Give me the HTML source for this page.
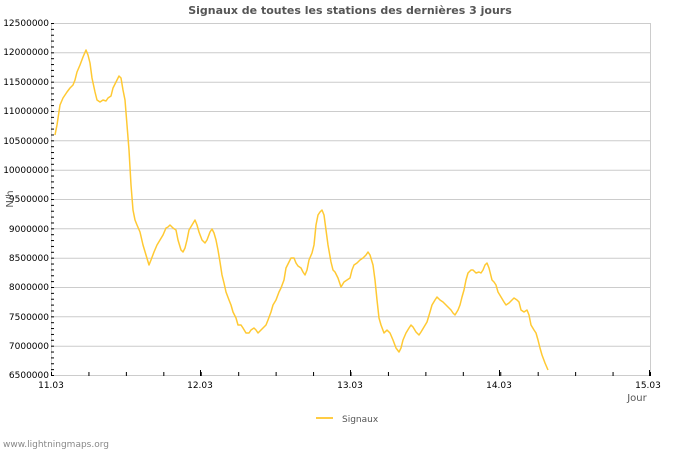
<!DOCTYPE html>
<html><head><meta charset="utf-8"><style>body{margin:0;background:#fff}svg{display:block}text{font-family:"DejaVu Sans","Liberation Sans",sans-serif}</style></head><body>
<svg width="700" height="450" viewBox="0 0 700 450" xmlns="http://www.w3.org/2000/svg">
<defs>
<pattern id="yt" patternUnits="userSpaceOnUse" x="0" y="23" width="10" height="5.8667"><rect x="0" y="0" width="10" height="1" fill="#000"/></pattern>
<pattern id="xt" patternUnits="userSpaceOnUse" x="51" y="0" width="37.4375" height="10"><rect x="0" y="0" width="1" height="10" fill="#000"/></pattern>
</defs>
<rect width="700" height="450" fill="#fff"/>
<text x="350" y="14" font-size="11" font-weight="bold" fill="#555" text-anchor="middle">Signaux de toutes les stations des dernières 3 jours</text>
<g stroke="#ccc" stroke-width="1">
<line x1="51" y1="23.5" x2="650" y2="23.5"/><line x1="51" y1="52.8" x2="650" y2="52.8"/><line x1="51" y1="82.2" x2="650" y2="82.2"/><line x1="51" y1="111.5" x2="650" y2="111.5"/><line x1="51" y1="140.8" x2="650" y2="140.8"/><line x1="51" y1="170.2" x2="650" y2="170.2"/><line x1="51" y1="199.5" x2="650" y2="199.5"/><line x1="51" y1="228.8" x2="650" y2="228.8"/><line x1="51" y1="258.2" x2="650" y2="258.2"/><line x1="51" y1="287.5" x2="650" y2="287.5"/><line x1="51" y1="316.8" x2="650" y2="316.8"/><line x1="51" y1="346.2" x2="650" y2="346.2"/>
<line x1="650.5" y1="23" x2="650.5" y2="375"/><line x1="51.5" y1="23" x2="51.5" y2="375"/><line x1="51" y1="375.5" x2="650" y2="375.5"/>
</g>
<rect x="51" y="23" width="3" height="353" fill="url(#yt)"/>
<rect x="51" y="372" width="600" height="4" fill="url(#xt)"/>
<g fill="#000"><rect x="200" y="370" width="1" height="6"/><rect x="350" y="370" width="1" height="6"/><rect x="499" y="370" width="1" height="6"/><rect x="649" y="370" width="1" height="6"/></g>
<g font-size="9" fill="#000" text-anchor="end">
<text x="49" y="26">12500000</text><text x="49" y="55">12000000</text><text x="49" y="85">11500000</text><text x="49" y="114">11000000</text><text x="49" y="144">10500000</text><text x="49" y="173">10000000</text><text x="49" y="202">9500000</text><text x="49" y="232">9000000</text><text x="49" y="261">8500000</text><text x="49" y="290">8000000</text><text x="49" y="320">7500000</text><text x="49" y="349">7000000</text><text x="49" y="378">6500000</text>
</g>
<g font-size="9" fill="#000" text-anchor="middle">
<text x="51" y="388">11.03</text><text x="200" y="388">12.03</text><text x="350" y="388">13.03</text><text x="499" y="388">14.03</text><text x="648" y="388">15.03</text>
</g>
<text x="637" y="401" font-size="10" fill="#555" text-anchor="middle">Jour</text>
<text x="13" y="199" font-size="10" fill="#555" text-anchor="middle" transform="rotate(-90 13 199)">N/h</text>
<line x1="316" y1="418" x2="333" y2="418" stroke="#ffcc44" stroke-width="2"/>
<text x="342" y="422" font-size="9" fill="#555">Signaux</text>
<text x="3" y="447" font-size="9" fill="#888">www.lightningmaps.org</text>
<polyline fill="none" stroke="#ffc933" stroke-width="1.5" stroke-linejoin="round" points="55,135 57,125 60,105 63,98 67,92 70,88 73,85 75,80 77,72 80,65 83,57 86,50 88,55 90,63 92,78 95,92 97,100 100,102 103,100 106,101 108,98 111,96 113,88 116,82 119,76 121,78 123,90 125,100 127,125 129,150 131,185 133,210 135,220 137,225 140,232 143,245 146,255 149,265 151,260 154,252 157,245 160,240 163,235 166,228 168,227 170,225 173,228 176,230 178,240 181,250 183,252 185,248 187,240 189,230 192,225 195,220 197,225 199,232 202,240 205,243 207,240 210,232 212,229 214,233 216,240 218,250 220,262 222,275 224,283 226,292 229,300 231,305 233,312 236,318 238,325 241,325 243,328 246,333 249,333 251,330 254,328 256,330 258,333 261,330 263,328 266,325 268,320 271,312 273,305 276,300 279,292 281,288 284,280 286,268 289,262 291,258 294,258 296,263 298,266 301,268 303,272 305,275 307,270 309,260 312,253 314,245 316,225 318,215 320,212 322,210 324,215 326,230 328,245 331,262 333,270 335,272 338,278 341,287 344,282 347,280 350,278 352,270 354,265 357,263 360,260 363,258 366,255 368,252 370,255 373,265 375,280 377,300 379,318 381,325 384,333 387,330 390,333 393,340 396,348 399,352 401,348 403,340 406,333 409,328 411,325 413,327 416,332 419,335 421,332 424,327 427,322 430,312 432,305 435,300 437,297 440,300 443,302 446,305 449,308 451,310 453,313 455,315 458,310 460,305 462,297 464,290 466,280 468,273 471,270 473,270 476,273 479,272 481,273 483,270 485,265 487,263 489,268 492,280 494,282 496,285 498,292 501,297 504,302 506,305 509,303 512,300 514,298 517,300 519,302 521,310 524,312 527,310 529,315 531,325 534,330 536,333 538,340 540,348 542,355 545,363 548,370"/>
</svg>
</body></html>
